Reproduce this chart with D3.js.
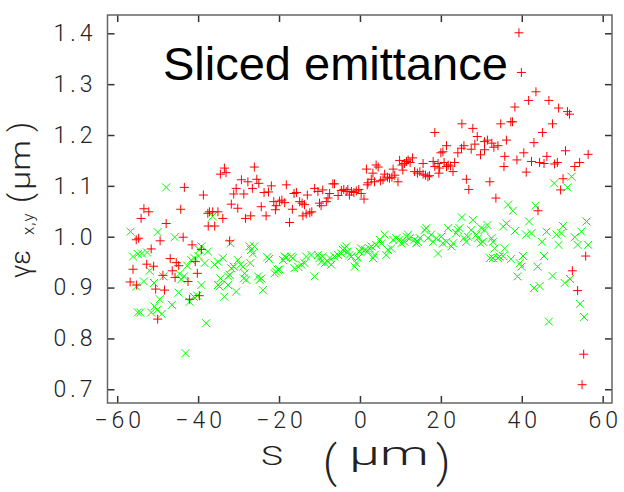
<!DOCTYPE html>
<html>
<head>
<meta charset="utf-8">
<script src="https://cdn.jsdelivr.net/npm/d3@7"></script>
<style>
body { margin: 0; background: #fff; }
svg { display: block; }
</style>
</head>
<body>
<svg id="chart" width="624" height="492"></svg>
<script>
"use strict";

//tick values
const xTicks = [-60, -40, -20, 0, 20, 40, 60];
const yTicks = [0.7, 0.8, 0.9, 1.0, 1.1, 1.2, 1.3, 1.4];
const yTickLabels = ["0.7", "0.8", "0.9", "1.0", "1.1", "1.2", "1.3", "1.4"];

//red + : one series, [s (um), emittance (um)]
const redPoints = [
	[-56.8,0.911],[-56.1,0.936],[-55.3,0.994],[-55.2,0.905],[-54.7,0.997],[-54.1,1.036],[-53.4,1.055],[-52.7,0.946],
	[-52.2,1.049],[-51.6,0.976],[-51.0,0.942],[-50.5,0.897],[-50.0,0.838],[-49.4,0.992],[-48.7,0.924],[-48.3,0.895],
	[-47.9,1.026],[-46.9,0.957],[-46.4,0.933],[-45.7,0.920],[-45.4,0.949],[-44.8,0.943],[-44.3,1.054],[-43.7,0.999],
	[-43.4,1.097],[-42.5,0.912],[-42.1,0.877],[-41.5,0.984],[-40.7,0.951],[-40.2,0.928],[-39.7,0.884],[-39.2,0.975],
	[-38.7,1.082],[-37.6,1.046],[-37.5,1.021],[-37.2,1.049],[-36.4,1.049],[-35.9,1.021],[-35.1,1.049],[-34.5,1.123],
	[-33.9,1.036],[-33.5,1.135],[-33.1,1.126],[-32.2,0.992],
	[-31.8,1.064],[-31.2,1.084],[-30.6,1.095],[-30.2,1.056],[-29.3,1.112],[-28.7,1.084],[-28.3,1.036],[-27.7,1.108],
	[-27.0,1.041],[-26.6,1.095],[-26.1,1.137],[-25.5,1.113],[-25.0,1.105],[-24.4,1.059],[-23.7,1.087],[-23.2,1.041],
	[-22.6,1.088],[-21.9,1.100],[-21.3,1.069],[-20.9,1.053],[-20.7,1.061],[-19.9,1.070],[-19.3,1.072],[-18.6,1.067],
	[-18.2,1.102],[-17.4,1.028],[-16.7,1.054],[-16.3,1.085],[-15.7,1.087],[-14.9,1.069],[-14.3,1.066],[-14.1,1.041],
	[-13.7,1.063],[-13.0,1.082],
	[-13.3,1.045],[-12.4,1.047],[-11.9,1.049],[-11.2,1.095],[-10.4,1.089],[-10.0,1.066],[-9.6,1.061],[-9.2,1.092],
	[-8.3,1.069],[-7.9,1.076],[-7.5,1.085],[-6.7,1.104],[-6.3,1.104],[-5.4,1.081],[-4.6,1.091],[-4.0,1.093],
	[-3.4,1.089],[-3.0,1.093],[-2.6,1.082],[-2.1,1.089],[-1.5,1.087],[-0.9,1.090],[-0.3,1.093],[0.3,1.085],
	[1.0,1.074],[1.6,1.133],[1.8,1.102],[2.0,1.106],[2.8,1.113],[3.2,1.125],[3.6,1.108],[4.0,1.141],
	[4.5,1.137],[5.1,1.110],[5.7,1.112],[6.1,1.123],[6.8,1.117],[7.3,1.115],[7.9,1.117],[8.2,1.133],
	[8.6,1.121],[9.4,1.108],[9.8,1.150],[10.4,1.141],[10.6,1.131],[11.0,1.144],[11.5,1.148],[11.9,1.151],
	[12.4,1.146],[13.0,1.155],
	[13.5,1.128],[14.2,1.125],[14.8,1.128],[15.6,1.123],[15.6,1.144],[16.2,1.121],[16.8,1.118],[17.2,1.120],
	[18.1,1.148],[18.5,1.138],[18.5,1.205],[19.3,1.144],[19.5,1.125],[19.7,1.135],[20.0,1.165],[20.5,1.167],
	[20.8,1.146],[21.4,1.138],[21.4,1.179],[21.8,1.141],[22.4,1.139],[23.0,1.128],[23.4,1.146],[24.2,1.165],
	[25.1,1.174],[25.2,1.222],[25.7,1.179],[26.3,1.113],[26.9,1.093],[27.5,1.172],[27.9,1.213],[28.4,1.182],
	[29.0,1.197],[29.8,1.161],[30.8,1.187],[30.8,1.171],[31.5,1.190],[32.1,1.108],[32.6,1.184],[33.1,1.176],
	[33.6,1.076],[34.1,1.179],[34.8,1.222],[35.6,1.138],[35.8,1.158],[36.2,1.190],
	[37.3,1.226],[37.7,1.226],[38.3,1.255],[38.8,1.151],[39.3,1.401],[39.9,1.323],[40.5,1.165],[41.1,1.127],
	[41.7,1.268],[42.4,1.148],[43.0,1.185],[43.5,1.285],[44.0,1.051],[44.4,1.146],[45.1,1.205],[45.5,1.144],
	[46.2,1.158],[46.7,1.268],[47.6,1.222],[48.1,1.143],[48.8,1.146],[49.1,1.253],[49.6,1.092],[50.2,1.114],
	[50.8,1.169],[51.3,1.246],[51.8,1.241],[52.5,0.933],[53.1,1.138],[53.8,0.894],[54.3,1.146],[54.9,0.709],
	[55.3,0.769],[55.8,0.962],[56.4,1.162]
];

//green x : other series
const greenPoints = [
	[-56.7,1.010],[-56.1,0.961],[-55.3,0.902],[-54.9,0.966],[-54.9,0.851],[-54.3,0.851],[-53.9,0.967],[-53.4,0.912],
	[-52.6,0.969],[-52.0,0.933],[-51.6,0.851],[-50.9,0.909],[-50.8,0.863],[-50.1,0.856],[-50.0,1.009],[-49.5,0.877],
	[-49.0,0.848],[-48.6,0.922],[-47.9,1.097],[-46.5,0.866],[-45.8,0.999],[-44.8,0.890],[-44.6,0.927],[-44.2,0.916],
	[-43.5,0.922],[-43.1,0.771],[-42.7,0.943],[-42.1,0.872],[-41.7,0.954],[-41.1,0.882],[-40.9,0.958],[-40.2,0.884],
	[-39.9,0.962],[-39.7,0.974],[-39.2,0.981],[-39.2,0.905],[-38.4,0.948],[-38.0,0.830],[-37.6,0.971],[-36.4,1.040],
	[-35.9,0.945],[-35.1,0.951],[-35.1,0.905],[-34.7,0.902],[-34.5,0.918],[-33.9,0.958],[-33.5,0.882],[-32.6,0.922],
	[-32.6,0.905],[-32.2,0.925],[-32.0,0.987],[-31.8,0.938],[-31.2,0.941],[-30.6,0.892],[-30.2,0.954],[-29.5,0.945],
	[-28.9,0.941],[-28.7,0.918],[-28.5,0.928],[-28.1,0.915],[-27.3,0.981],[-27.1,0.948],[-26.9,0.974],[-26.5,0.967],
	[-26.1,0.981],[-25.2,0.922],[-24.8,0.915],[-24.4,0.918],[-24.0,0.895],[-22.9,0.960],[-22.5,0.956],[-21.1,0.928],
	[-20.7,0.931],[-20.3,0.935],[-19.9,0.936],[-19.0,0.954],[-18.6,0.961],[-18.2,0.959],[-17.0,0.961],[-16.6,0.958],
	[-16.2,0.938],[-15.3,0.941],[-14.5,0.945],[-13.7,0.948],[-13.3,0.961],[-12.0,0.964],[-11.2,0.922],[-10.4,0.964],
	[-10.0,0.958],[-9.6,0.951],[-9.2,0.961],[-8.7,0.948],[-7.9,0.951],[-7.5,0.958],[-7.1,0.945],[-6.3,0.961],
	[-5.4,0.964],[-4.6,0.967],[-4.2,0.974],[-3.8,0.977],[-3.4,0.981],[-3.0,0.971],[-2.6,0.964],[-2.1,0.961],
	[-1.3,0.941],[-0.9,0.948],[-0.5,0.958],[-0.1,0.971],[0.3,0.977],[1.2,0.974],[2.0,0.971],[2.4,0.977],
	[2.8,0.981],[3.2,0.958],[3.6,0.964],[4.0,0.984],[4.9,0.994],[5.3,0.987],[6.1,1.004],[6.5,0.964],
	[6.9,0.974],[7.7,0.977],[8.2,0.994],[9.0,0.997],[9.8,0.994],[10.2,0.987],[11.0,0.990],[11.5,1.000],
	[11.9,1.004],[12.3,0.997],[13.5,0.994],[13.9,0.987],[14.3,0.990],[14.8,0.997],[16.0,1.013],[16.4,1.017],
	[16.8,0.997],[17.6,1.004],[18.1,0.990],[18.9,0.997],[19.3,0.967],[20.1,1.000],[20.5,0.987],[21.4,0.990],
	[21.8,1.017],[22.6,0.981],[23.0,0.987],[23.8,1.007],[24.2,1.013],[24.6,1.017],[25.2,1.038],[25.7,0.997],
	[26.3,0.990],[26.7,1.000],[27.5,1.013],[27.9,1.033],[28.8,1.004],[29.2,0.997],[29.8,0.987],[30.0,1.017],
	[30.4,0.990],[30.8,1.013],[31.5,1.023],[32.1,0.958],[32.5,0.997],[32.9,0.990],[32.9,0.958],[33.3,0.977],
	[34.1,0.958],[34.5,0.961],[35.4,0.962],[35.4,1.020],[35.8,0.977],[36.2,1.026],[36.6,1.063],[37.3,0.956],
	[37.8,1.051],[38.3,1.011],[38.9,0.922],[39.5,0.948],[39.9,0.941],[40.3,0.962],[41.1,1.004],[41.8,1.030],
	[42.4,1.007],[43.0,0.899],[43.4,1.061],[43.9,0.941],[44.4,0.903],[45.0,0.990],[45.5,0.962],[46.1,1.010],
	[46.7,0.833],[47.6,0.923],[48.0,1.105],[48.6,1.004],[49.1,0.984],[49.8,1.007],[50.2,1.021],[50.6,0.909],
	[51.3,1.097],[51.9,0.917],[52.3,1.118],[53.1,0.999],[53.8,0.984],[54.4,0.868],[54.7,1.010],[55.4,0.842],
	[56.0,1.030],[56.4,0.984]
];

(function()
{
	const svg = d3.select("svg#chart");
	const left = 107.5, right = 612, top = 15, bottom = 403;
	const labelFont = "Roboto, 'DejaVu Sans', sans-serif";

	let x = d3.scaleLinear().domain([-62.4, 62.3]).range([left, right]);
	let y = d3.scaleLinear().domain([0.673, 1.436]).range([bottom, top]);

	//markers, green first then red on top
	let marks = svg.append("g")
		.attr("fill", "none")
		.attr("stroke-width", 1);

	marks.append("g")
		.attr("stroke", "#00ff00")
		.selectAll("path")
		.data(greenPoints)
		.join("path")
		.attr("d", function(d)
		{
			let px = x(d[0]), py = y(d[1]), r = 4;
			return `M${px - r},${py - r}L${px + r},${py + r}M${px - r},${py + r}L${px + r},${py - r}`;
		});

	marks.append("g")
		.attr("stroke", "#ff0000")
		.selectAll("path")
		.data(redPoints)
		.join("path")
		.attr("d", function(d)
		{
			let px = x(d[0]), py = y(d[1]), r = 4.5;
			return `M${px - r},${py}H${px + r}M${px},${py - r}V${py + r}`;
		});

	//axes with inward ticks
	function style_axis(g)
	{
		g.select(".domain").remove();
		g.selectAll(".tick line").attr("stroke", "#333").attr("stroke-width", 1.5);
		g.selectAll(".tick text")
			.attr("fill", "#222")
			.attr("font-family", labelFont)
			.attr("font-weight", 300)
			.attr("font-size", 23)
			.attr("letter-spacing", 4);
	}

	svg.append("g")
		.attr("transform", `translate(0,${bottom})`)
		.call(d3.axisBottom(x).tickValues(xTicks).tickSize(-7).tickPadding(9))
		.call(style_axis)
		.selectAll(".tick text").attr("dx", 2);

	svg.append("g")
		.attr("transform", `translate(0,${top})`)
		.call(d3.axisTop(x).tickValues(xTicks).tickSize(-7).tickFormat(""))
		.call(style_axis);

	svg.append("g")
		.attr("transform", `translate(${left},0)`)
		.call(d3.axisLeft(y).tickValues(yTicks).tickSize(-7).tickPadding(11)
			.tickFormat(function(d, i) { return yTickLabels[i]; }))
		.call(style_axis);

	svg.append("g")
		.attr("transform", `translate(${right},0)`)
		.call(d3.axisRight(y).tickValues(yTicks).tickSize(-7).tickFormat(""))
		.call(style_axis);

	//frame
	svg.append("rect")
		.attr("x", left).attr("y", top)
		.attr("width", right - left).attr("height", bottom - top)
		.attr("fill", "none")
		.attr("stroke", "#666")
		.attr("stroke-width", 1.5);

	//title inside the plot
	svg.append("text")
		.attr("x", 163).attr("y", 80)
		.attr("font-family", "'Liberation Sans', Arial, sans-serif")
		.attr("font-size", 47)
		.attr("fill", "#000")
		.text("Sliced emittance");

	//x axis title: S (um)
	let xt = svg.append("g")
		.attr("fill", "#222")
		.attr("font-family", labelFont)
		.attr("font-weight", 300);
	xt.append("text").attr("x", 261).attr("y", 465).attr("font-size", 25)
		.attr("textLength", 22).attr("lengthAdjust", "spacingAndGlyphs").text("S");
	xt.append("text").attr("x", 323).attr("y", 477).attr("font-size", 44).text("(");
	xt.append("text").attr("x", 349).attr("y", 465).attr("font-size", 34)
		.attr("textLength", 80).attr("lengthAdjust", "spacingAndGlyphs").text("\u03bcm");
	xt.append("text").attr("x", 436).attr("y", 477).attr("font-size", 44).text(")");

	//y axis title: gamma eps_{x,y} (um), rotated
	let yt = svg.append("g")
		.attr("transform", "translate(30,278) rotate(-90)")
		.attr("fill", "#222")
		.attr("font-family", labelFont)
		.attr("font-weight", 300);
	yt.append("text").attr("x", 0).attr("y", 0).attr("font-size", 27).text("\u03b3\u03b5");
	yt.append("text").attr("x", 43).attr("y", 4).attr("font-size", 17).attr("letter-spacing", 1).text("x,y");
	yt.append("text").attr("x", 75).attr("y", 1).attr("font-size", 31).text("(");
	yt.append("text").attr("x", 88).attr("y", 0).attr("font-size", 27)
		.attr("textLength", 50).attr("lengthAdjust", "spacingAndGlyphs").text("\u03bcm");
	yt.append("text").attr("x", 146).attr("y", 1).attr("font-size", 31).text(")");
})();
</script>
</body>
</html>
